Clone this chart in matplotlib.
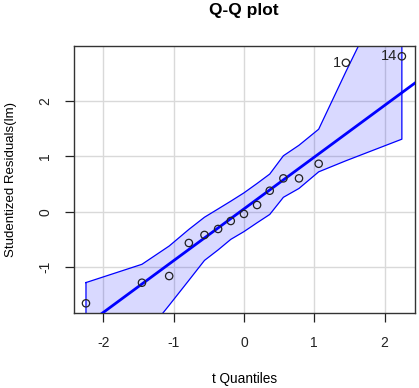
import matplotlib
matplotlib.use("Agg")
import matplotlib.pyplot as plt
import numpy as np

plt.rcParams['font.family'] = ['Liberation Sans', 'DejaVu Sans']

# theoretical t quantiles and studentized residuals
t_quant = [-2.246, -1.45, -1.063, -0.783, -0.561, -0.367, -0.187, 0.0,
           0.187, 0.367, 0.561, 0.783, 1.063, 1.45, 2.246]
resid = [-1.655, -1.283, -1.162, -0.565, -0.42, -0.312, -0.168, -0.04,
         0.121, 0.379, 0.602, 0.602, 0.866, 2.69, 2.807]
env_upper = [-1.28, -0.95, -0.62, -0.32, -0.10, 0.05, 0.19, 0.34,
             0.51, 0.68, 1.01, 1.20, 1.49, 2.53, 4.6]
env_lower = [-3.8, -2.3, -1.69, -1.24, -0.88, -0.69, -0.50, -0.36,
             -0.20, -0.05, 0.26, 0.42, 0.72, 0.92, 1.31]
line_intercept = 0.05
line_slope = 0.935
labeled_idx = [13, 14]
labels = ["1", "14"]
xticks = [-2, -1, 0, 1, 2]
yticks = [-1, 0, 1, 2]

fig = plt.figure(figsize=(4.19, 3.88), dpi=100)
ax = fig.add_axes([0.176, 0.194, 0.814, 0.687])

ax.set_xlim(-2.42, 2.43)
ax.set_ylim(-1.825, 2.99)

for xt in xticks:
    ax.axvline(xt, color='#d9d9d9', lw=1, zorder=0)
for yt in yticks:
    ax.axhline(yt, color='#d9d9d9', lw=1, zorder=0)

tx = np.array(t_quant)
poly_x = np.concatenate([tx, tx[::-1]])
poly_y = np.concatenate([np.array(env_upper), np.array(env_lower)[::-1]])
ax.fill(poly_x, poly_y, facecolor='#0000ff', alpha=0.15, edgecolor='none', zorder=1)
ax.plot(np.append(poly_x, poly_x[0]), np.append(poly_y, poly_y[0]),
        color='#0000ff', lw=0.9, zorder=2)

xl = np.array(ax.get_xlim())
ax.plot(xl, line_intercept + line_slope * xl, color='#0000ff', lw=2, zorder=3)

ax.scatter(t_quant, resid, s=28, facecolors='none', edgecolors='#222222',
           linewidths=0.9, zorder=4, clip_on=False)

for i, lab in zip(labeled_idx, labels):
    ax.annotate(lab, (t_quant[i], resid[i]), xytext=(-3.5, 0),
                textcoords='offset points', ha='right', va='center',
                fontsize=10.5, color='#222222')

ax.set_xticks(xticks)
ax.set_yticks(yticks)
ax.set_xticklabels([str(v) for v in xticks])
ax.set_yticklabels([str(v) for v in yticks], rotation=90, va='center')
ax.tick_params(axis='both', direction='out', length=6.5, width=0.9,
               labelsize=10, colors='#222222')
ax.tick_params(axis='x', pad=10.5)
ax.tick_params(axis='y', pad=9)

for sp in ax.spines.values():
    sp.set_color('#333333')
    sp.set_linewidth(1)

ax.set_xlabel('t Quantiles', fontsize=9.8, labelpad=15.5)
ax.set_ylabel('Studentized Residuals(lm)', fontsize=9.5, labelpad=15)
fig.text(0.5 * (0.176 + 0.990), 1 - 11 / 388, 'Q-Q plot', fontsize=12.5,
         fontweight='bold', ha='center', va='center')

fig.savefig('out.png', dpi=100)
